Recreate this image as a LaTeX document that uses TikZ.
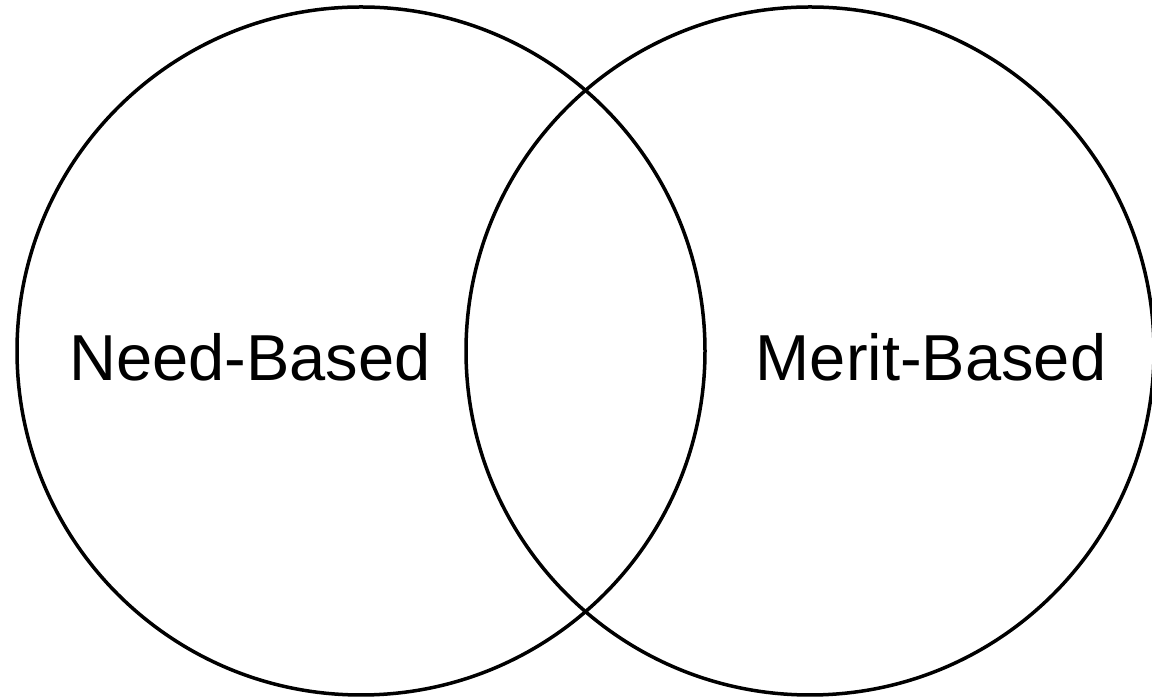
\documentclass[tikz,border=0pt]{standalone}
\usepackage{fontspec}
\setmainfont{Liberation Sans}
\usepackage{tikz}
\tikzstyle{set}=[draw=black, line width=3.5pt, shape=circle, inner sep=0pt, minimum size=688pt]
\tikzstyle{label}=[anchor=base, inner sep=0pt, font=\fontsize{65}{78}\selectfont]
\begin{document}
\begin{tikzpicture}[x=1pt, y=1pt]
	\useasboundingbox (0, 0) rectangle (1152, 698);
	\node [style=set] (0) at (361, 347) {};
	\node [style=set] (1) at (810, 347) {};
	\node [style=label] (2) at (250, 317) {Need-Based};
	\node [style=label] (3) at (931, 317) {Merit-Based};
\end{tikzpicture}
\end{document}
